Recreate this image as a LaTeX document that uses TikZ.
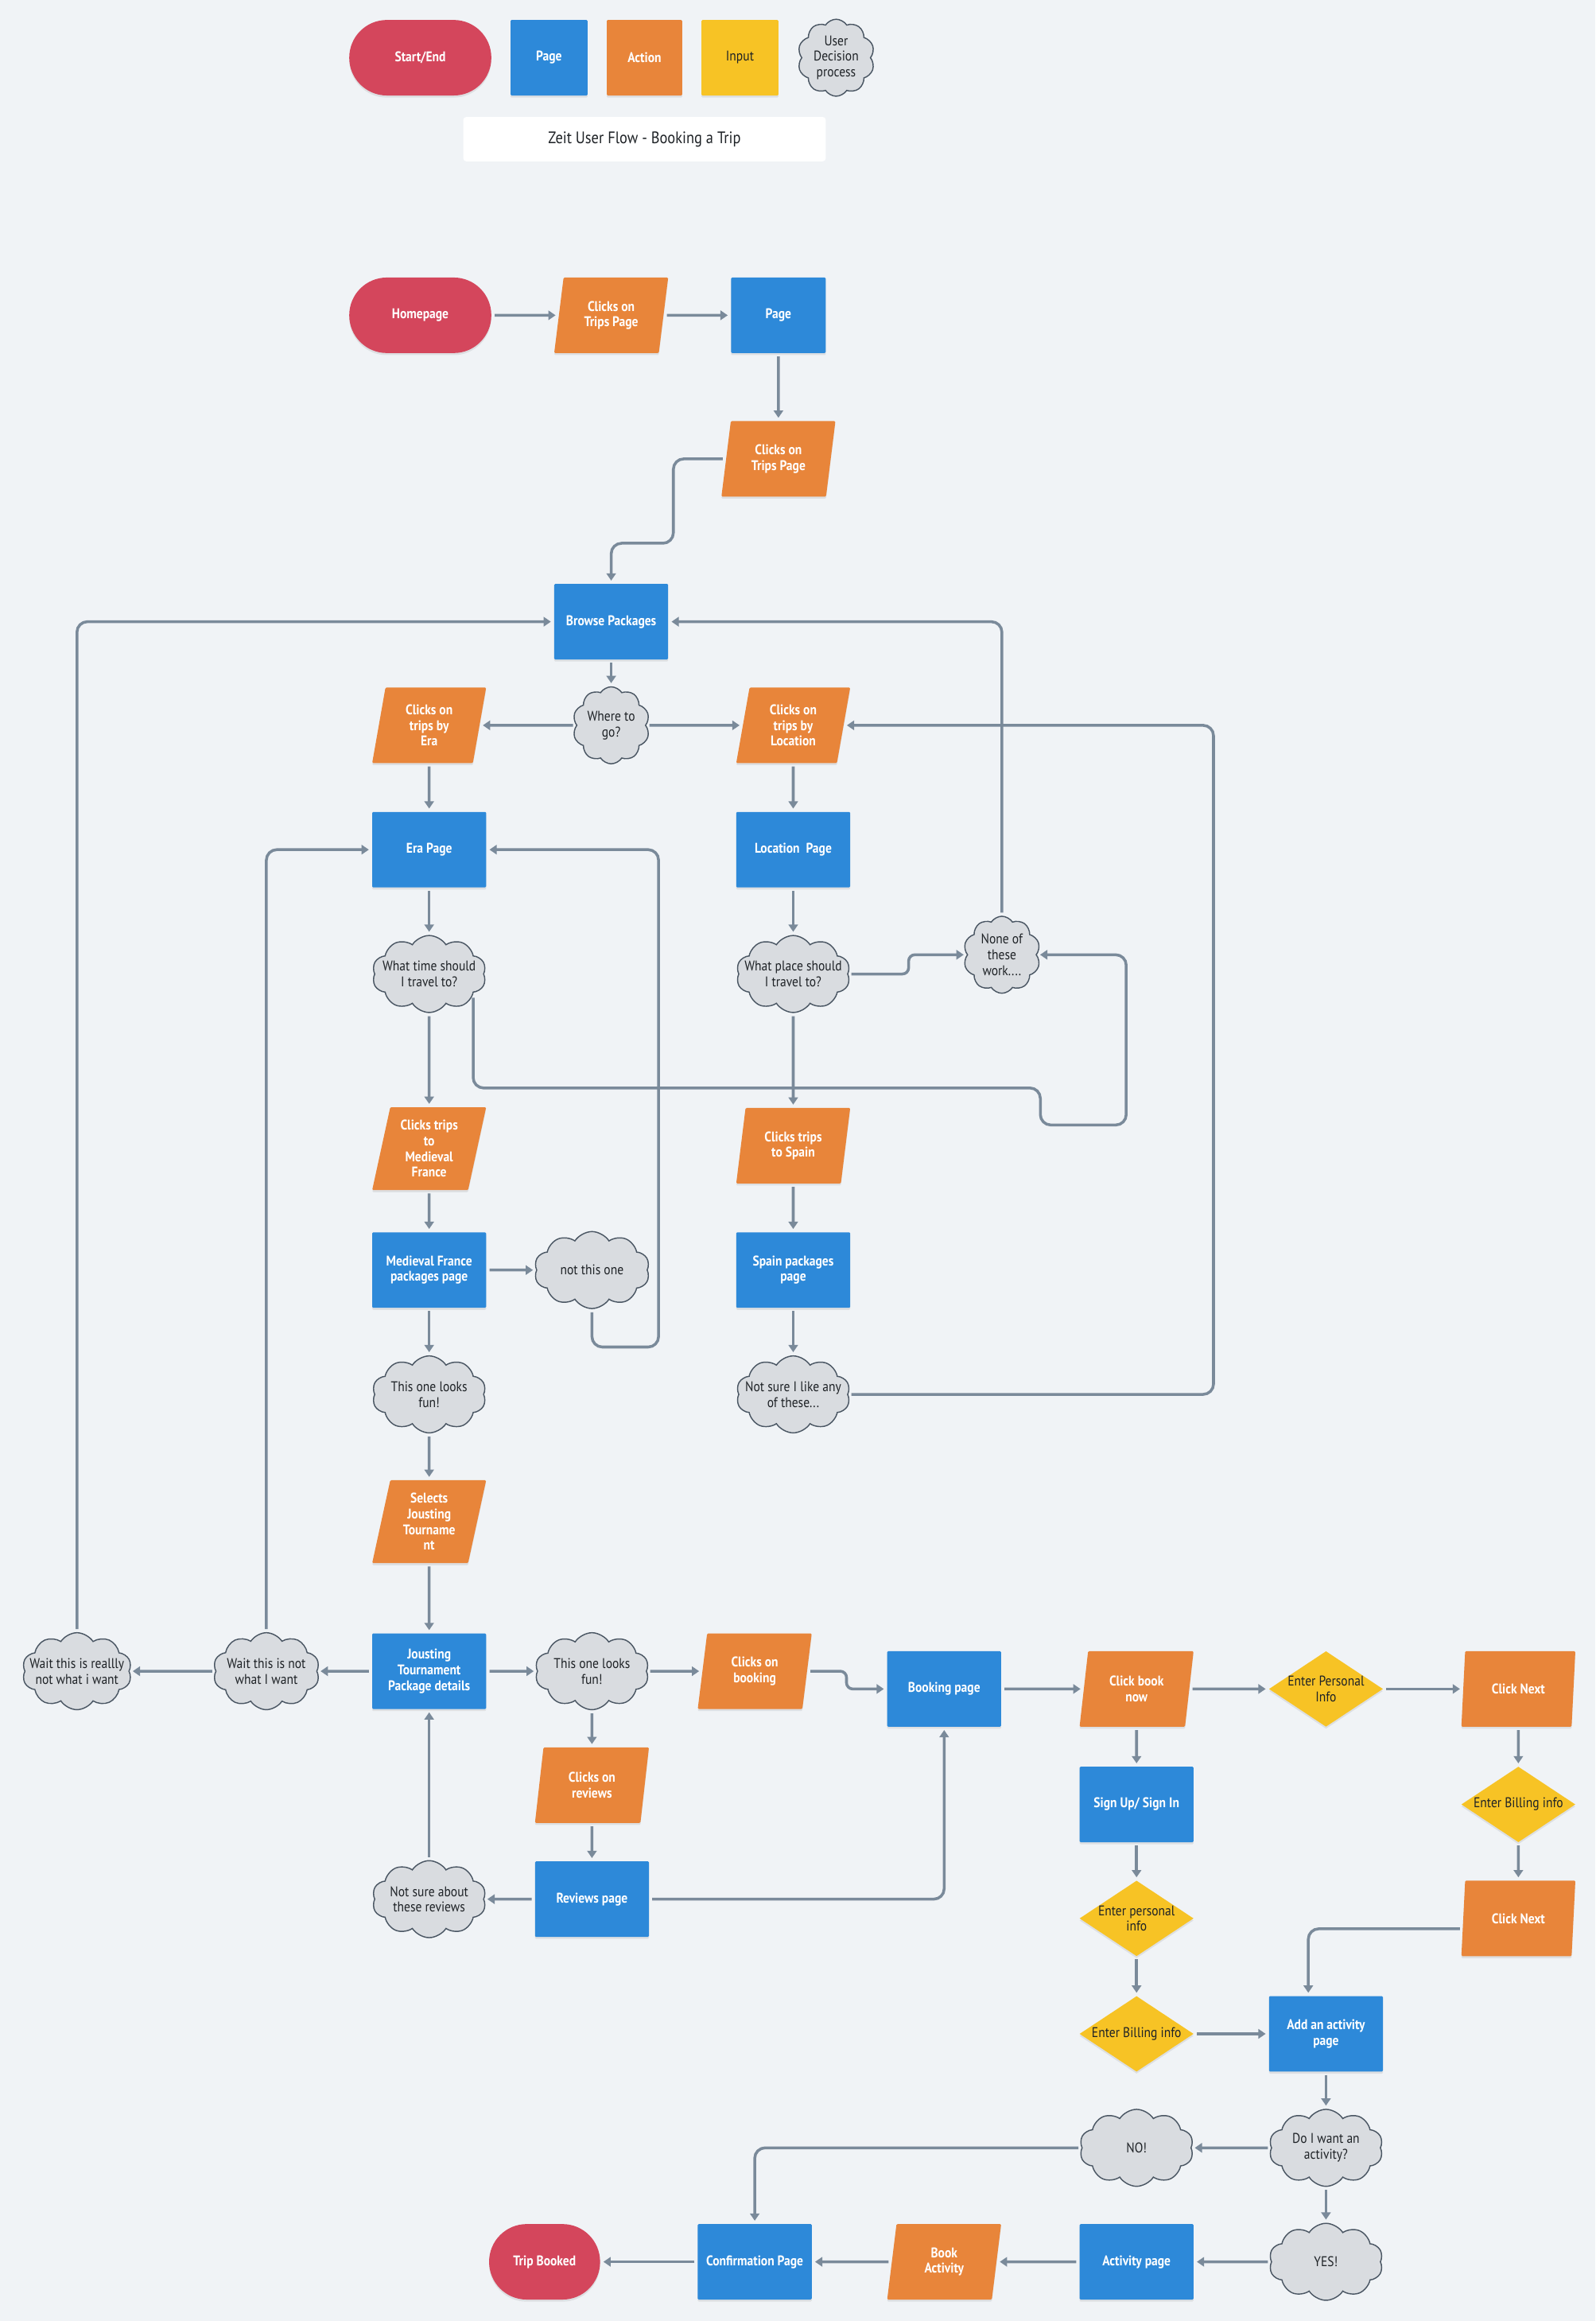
\documentclass[tikz,border=0pt]{standalone}
\usepackage{fontspec}
\setmainfont[FakeStretch=0.88]{PT Sans}
\usetikzlibrary{shapes.geometric,shapes.symbols,arrows.meta,shadows}

\definecolor{bgc}{HTML}{F0F3F6}
\definecolor{redc}{HTML}{D4465C}
\definecolor{bluec}{HTML}{2D89D9}
\definecolor{orangec}{HTML}{E8853A}
\definecolor{yellowc}{HTML}{F7C325}
\definecolor{cloudc}{HTML}{D9DCE0}
\definecolor{cloudedge}{HTML}{4A5663}
\definecolor{linec}{HTML}{7A8A9A}
\definecolor{textc}{HTML}{1E2226}

\newcommand{\chartfont}{\fontsize{13.5}{15}\selectfont}

\tikzset{
  base/.style={font=\chartfont, align=center, inner sep=1pt},
  lift/.style={drop shadow={shadow xshift=0pt, shadow yshift=-2pt, opacity=0.08, fill=black}},
  wtext/.style={text=white, font=\chartfont\bfseries},
  dtext/.style={base, text=textc},
  terminal/.style={base, wtext, lift, fill=redc, minimum width=4.8cm, minimum height=2.55cm, rounded corners=1.27cm},
  page/.style={base, wtext, lift, fill=bluec, minimum width=3.85cm, minimum height=2.55cm, rounded corners=1pt},
  action/.style={base, wtext, lift, trapezium, trapezium left angle=73, trapezium right angle=107,
    trapezium stretches body, fill=orangec, minimum width=3.85cm, minimum height=2.55cm, rounded corners=1pt},
  input/.style={diamond, lift, fill=yellowc, minimum width=3.85cm, minimum height=2.55cm, inner sep=0pt},
  thought/.style={cloud, cloud puffs=10, cloud puff arc=115, cloud ignores aspect, draw=cloudedge, line width=1.1pt,
    fill=cloudc, minimum width=2.6cm, minimum height=2.6cm, inner sep=0pt},
  flow/.style={draw=linec, line width=2.7pt, -{Triangle[width=9pt,length=7pt]}, shorten >=3pt, shorten <=3pt,
    rounded corners=10pt},
}

\begin{document}
\begin{tikzpicture}[x=0.05cm, y=-0.05cm]
  \fill[bgc] (0,0) rectangle (1078,1568);

  \path (284,39) node[terminal] (nstartend) {Start/End};
  \path (371,39) node[page, minimum width=2.6cm] (npagekey) {Page};
  \path (435.5,39) node[page, fill=orangec, minimum width=2.55cm] (nactionkey) {Action};
  \path (500,39) node[page, fill=yellowc, text=textc, font=\chartfont, minimum width=2.6cm] (ninputkey) {Input};
  \path (565,39) node[thought, label={[dtext]center:User\\Decision\\process}] (nthoughtkey) {};
  \path (435.5,94) node[dtext, font=\fontsize{16}{18}\selectfont, fill=white, rounded corners=3pt, minimum width=12.25cm, minimum height=1.5cm] (ntitle) {Zeit User Flow - Booking a Trip};

  \path (284,213) node[terminal] (nhome) {Homepage};
  \path (413,213) node[action] (nclick1) {Clicks on\\Trips Page};
  \path (526,213) node[page, minimum width=3.2cm] (npage) {Page};
  \path (526,310) node[action] (nclick2) {Clicks on\\Trips Page};
  \path (413,420) node[page] (nbrowse) {Browse Packages};
  \path (413,490) node[thought, label={[dtext]center:Where to\\go?}] (nwhere) {};
  \path (290,490) node[action] (nera) {Clicks on\\trips by\\Era};
  \path (536,490) node[action] (nloc) {Clicks on\\trips by\\Location};
  \path (290,574) node[page] (nerapage) {Era Page};
  \path (536,574) node[page] (nlocpage) {Location\ \ Page};
  \path (290,658) node[thought, minimum width=3.85cm, label={[dtext]center:What time should\\I travel to?}] (nwhattime) {};
  \path (536,658) node[thought, minimum width=3.85cm, label={[dtext]center:What place should\\I travel to?}] (nwhatplace) {};
  \path (677,645) node[thought, label={[dtext]center:None of\\these\\work....}] (nnone) {};
  \path (290,776) node[action, minimum height=2.8cm] (nmedieval) {Clicks trips\\to\\Medieval\\France};
  \path (536,774) node[action] (nspain) {Clicks trips\\to Spain};
  \path (290,858) node[page] (nmfpage) {Medieval France\\packages page};
  \path (536,858) node[page] (nspainpage) {Spain packages\\page};
  \path (400,858) node[thought, minimum width=3.9cm, label={[dtext]center:not this one}] (nnotthis) {};
  \path (290,942) node[thought, minimum width=3.85cm, label={[dtext]center:This one looks\\fun!}] (nfun1) {};
  \path (536,942) node[thought, minimum width=3.85cm, label={[dtext]center:Not sure I like any\\of these...}] (nnotsure) {};
  \path (290,1028) node[action, minimum height=2.8cm] (nselects) {Selects\\Jousting\\Tourname\\nt};
  \path (290,1129) node[page] (njousting) {Jousting\\Tournament\\Package details};
  \path (180,1129) node[thought, minimum width=3.6cm, label={[dtext]center:Wait this is not\\what I want}] (nwaitnot) {};
  \path (52,1129) node[thought, minimum width=3.7cm, label={[dtext]center:Wait this is reallly\\not what i want}] (nwaitreally) {};
  \path (400,1129) node[thought, minimum width=3.85cm, label={[dtext]center:This one looks\\fun!}] (nfun2) {};
  \path (510,1129) node[action] (nbooking) {Clicks on\\booking};
  \path (400,1206) node[action] (nreviews) {Clicks on\\reviews};
  \path (400,1283) node[page] (nreviewpage) {Reviews page};
  \path (290,1283) node[thought, minimum width=3.85cm, label={[dtext]center:Not sure about\\these reviews}] (nnotsurerev) {};
  \path (638,1141) node[page] (nbookpage) {Booking page};
  \path (768,1141) node[action] (nclickbook) {Click book\\now};
  \path (896,1141) node[input, label={[dtext]center:Enter Personal\\Info}] (nperson) {};
  \path (1026,1141) node[action] (nnext1) {Click Next};
  \path (1026,1219) node[input, label={[dtext]center:Enter Billing info}] (nbillr) {};
  \path (1026,1296) node[action] (nnext2) {Click Next};
  \path (768,1219) node[page] (nsignup) {Sign Up/ Sign In};
  \path (768,1296) node[input, label={[dtext]center:Enter personal\\info}] (npersonl) {};
  \path (768,1374) node[input, label={[dtext]center:Enter Billing info}] (nbilll) {};
  \path (896,1374) node[page] (nactivityadd) {Add an activity\\page};
  \path (896,1451) node[thought, minimum width=3.85cm, label={[dtext]center:Do I want an\\activity?}] (nwant) {};
  \path (768,1451) node[thought, minimum width=3.85cm, label={[dtext]center:NO!}] (nno) {};
  \path (896,1528) node[thought, minimum width=3.85cm, label={[dtext]center:YES!}] (nyes) {};
  \path (768,1528) node[page] (nactivity) {Activity page};
  \path (638,1528) node[action] (nbook) {Book\\Activity};
  \path (510,1528) node[page] (nconfirm) {Confirmation Page};
  \path (368,1528) node[terminal, minimum width=3.75cm] (ntrip) {Trip Booked};

  \draw[flow] (nhome) -- (nclick1);
  \draw[flow] (nclick1) -- (npage);
  \draw[flow] (npage) -- (nclick2);
  \draw[flow] (nclick2.west) -- (455,310) -- (455,367) -- (413,367) -- (nbrowse.north);
  \draw[flow] (nbrowse) -- (nwhere);
  \draw[flow] (nwhere) -- (nera);
  \draw[flow] (nwhere) -- (nloc);
  \draw[flow] (nera) -- (nerapage);
  \draw[flow] (nloc) -- (nlocpage);
  \draw[flow] (nerapage) -- (nwhattime);
  \draw[flow] (nlocpage) -- (nwhatplace);
  \draw[flow, rounded corners=6pt] (nwhatplace.east) -- (614,658) -- (614,645) -- (nnone);
  \draw[flow] (nnone.north) |- (nbrowse);
  \draw[flow] (nwhattime.-25) |- (703,735) -- (703,760) -- (761,760) |- (nnone);
  \draw[flow] (nwhattime) -- (nmedieval);
  \draw[flow] (nwhatplace) -- (nspain);
  \draw[flow] (nmedieval) -- (nmfpage);
  \draw[flow] (nspain) -- (nspainpage);
  \draw[flow] (nmfpage) -- (nnotthis);
  \draw[flow] (nnotthis.south) |- (445,910) |- (nerapage);
  \draw[flow] (nmfpage) -- (nfun1);
  \draw[flow] (nspainpage) -- (nnotsure);
  \draw[flow] (nnotsure.east) -- (820,942) |- (nloc);
  \draw[flow] (nfun1) -- (nselects);
  \draw[flow] (nselects) -- (njousting);
  \draw[flow] (njousting) -- (nwaitnot);
  \draw[flow] (nwaitnot) -- (nwaitreally);
  \draw[flow] (nwaitnot.north) |- (nerapage);
  \draw[flow] (nwaitreally.north) |- (nbrowse);
  \draw[flow] (njousting) -- (nfun2);
  \draw[flow] (nfun2) -- (nbooking);
  \draw[flow, rounded corners=6pt] (nbooking.east) -- (572,1129) |- (nbookpage);
  \draw[flow] (nfun2) -- (nreviews);
  \draw[flow] (nreviews) -- (nreviewpage);
  \draw[flow] (nreviewpage) -- (nnotsurerev);
  \draw[flow] (nnotsurerev) -- (njousting);
  \draw[flow] (nreviewpage.east) -| (nbookpage);
  \draw[flow] (nbookpage) -- (nclickbook);
  \draw[flow] (nclickbook) -- (nperson);
  \draw[flow] (nperson) -- (nnext1);
  \draw[flow] (nnext1) -- (nbillr);
  \draw[flow] (nbillr) -- (nnext2);
  \draw[flow] ([yshift=-10pt]nnext2.west) -| ([xshift=-17pt]nactivityadd.north);
  \draw[flow] (nclickbook) -- (nsignup);
  \draw[flow] (nsignup) -- (npersonl);
  \draw[flow] (npersonl) -- (nbilll);
  \draw[flow] (nbilll) -- (nactivityadd);
  \draw[flow] (nactivityadd) -- (nwant);
  \draw[flow] (nwant) -- (nno);
  \draw[flow] (nno.west) -| (nconfirm);
  \draw[flow] (nwant) -- (nyes);
  \draw[flow] (nyes) -- (nactivity);
  \draw[flow] (nactivity) -- (nbook);
  \draw[flow] (nbook) -- (nconfirm);
  \draw[flow] (nconfirm) -- (ntrip);
\end{tikzpicture}
\end{document}
